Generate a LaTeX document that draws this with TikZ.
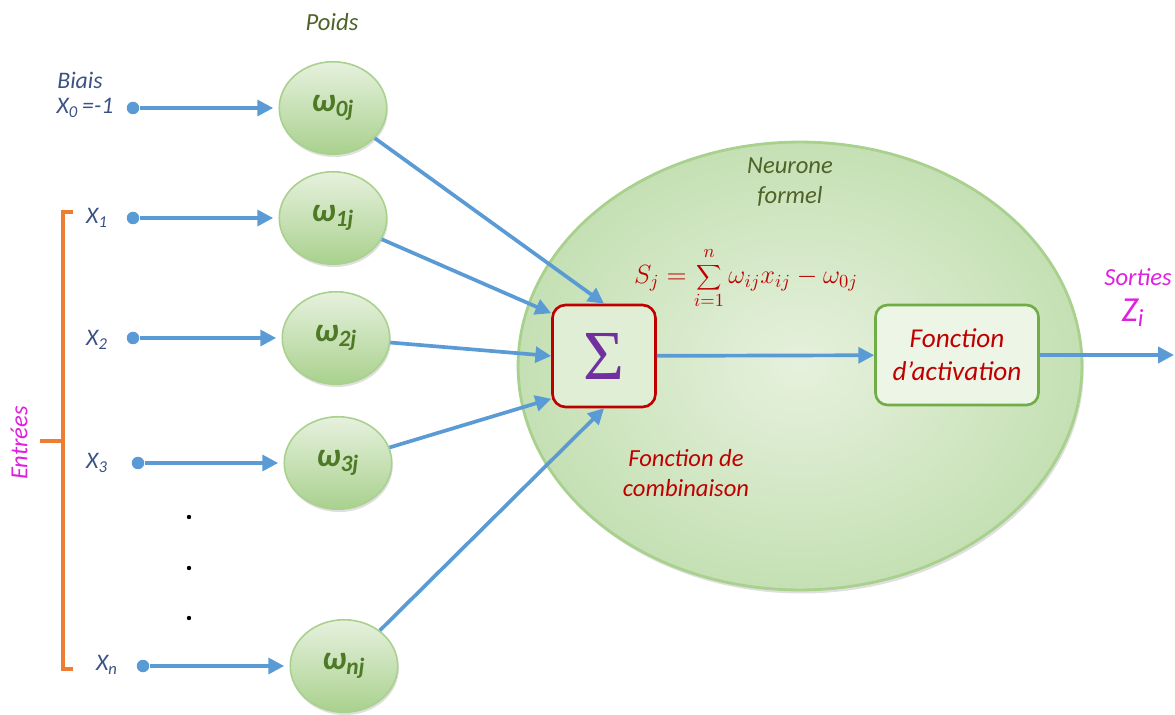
\documentclass[tikz,border=0pt]{standalone}
\usepackage{fix-cm}
\usepackage{fontspec}
\setmainfont{Carlito}
\newfontfamily\sigmafont{Liberation Serif}
\usetikzlibrary{arrows.meta,shapes.geometric,shadows}

\definecolor{arrowblue}{HTML}{5B9BD5}
\definecolor{leafgreen}{HTML}{A9D18E}
\definecolor{midgreen}{HTML}{C5E0B4}
\definecolor{palegreen}{HTML}{E6F1DD}
\definecolor{boxgreen}{HTML}{70AD47}
\definecolor{darkolive}{HTML}{4F6228}
\definecolor{weightgreen}{HTML}{4E7A27}
\definecolor{inkblue}{HTML}{3B5284}
\definecolor{darkred}{HTML}{C00000}
\definecolor{pinkmag}{HTML}{E020E0}
\definecolor{bracketorange}{HTML}{ED7D31}
\definecolor{sigmapurple}{HTML}{7030A0}

\tikzset{
  weight/.style={ellipse, minimum width=2.15cm, minimum height=1.85cm, inner sep=0pt,
    draw=leafgreen, line width=0.9pt, top color=palegreen, bottom color=leafgreen,
    text=weightgreen, font=\fontsize{19}{22}\selectfont\bfseries\itshape,
    drop shadow={opacity=0.25, shadow xshift=0.6pt, shadow yshift=-1.6pt}},
  indot/.style={circle, fill=arrowblue, inner sep=0pt, minimum size=0.25cm},
  inlabel/.style={text=inkblue, font=\fontsize{13.5}{16}\selectfont\itshape},
  link/.style={arrowblue, line width=2.1pt, -{Triangle[length=9pt,width=9pt]}},
  redtext/.style={text=darkred, align=center, font=\fontsize{14}{17}\selectfont\itshape},
  greentext/.style={text=darkolive, align=center, font=\fontsize{14}{17}\selectfont\itshape},
  pinktext/.style={text=pinkmag, font=\fontsize{14}{17}\selectfont\itshape},
}

\begin{document}
\begin{tikzpicture}[x=0.02cm, y=-0.02cm]
  \useasboundingbox (0,0) rectangle (1175,715);

  % neuron body
  \node(neuron) [ellipse, minimum width=11.28cm, minimum height=8.96cm, inner sep=0pt,
    draw=leafgreen, line width=1.6pt, inner color=palegreen, outer color=midgreen,
    drop shadow={opacity=0.25, shadow xshift=1pt, shadow yshift=-2pt}] at (800,366) {};
  \node(title) [greentext] at (790,182) {Neurone\\formel};
  \node(formula) [text=darkred, font=\fontsize{15}{18}\selectfont, inner sep=0pt] at (746,276)
    {$\displaystyle S_j=\sum_{i=1}^{n\vphantom{j}}\omega_{ij}x_{ij}-\omega_{0j}$};

  % combination and activation
  \node(sigma) [draw=darkred, line width=1.5pt, rounded corners=0.26cm, fill=palegreen!80!midgreen,
    minimum width=2.06cm, minimum height=2.04cm, text=sigmapurple,
    font=\fontsize{40}{44}\selectfont\sigmafont] at (604,356) {Σ};
  \node(comb) [redtext] at (686,473) {Fonction de\\combinaison};
  \node(act) [draw=boxgreen, line width=1.5pt, rounded corners=0.24cm, fill=palegreen!70!white,
    minimum width=3.26cm, minimum height=2cm, redtext, font=\fontsize{15.5}{19}\selectfont\itshape]
    at (957,355) {Fonction\\d’activation};

  % weights
  \node(poids) [greentext] at (332,22) {Poids};
  \node(w0) [weight] at (333,108) {ω\textsubscript{0j}};
  \node(w1) [weight] at (333,218) {ω\textsubscript{1j}};
  \node(w2) [weight] at (336,338) {ω\textsubscript{2j}};
  \node(w3) [weight] at (338,463) {ω\textsubscript{3j}};
  \node(wn) [weight] at (344,666) {ω\textsubscript{nj}};

  % inputs
  \node(biais) [inlabel] at (80,80) {Biais};
  \node(x0) [inlabel] at (85,108) {X\textsubscript{0}\,=-1};
  \node(x1) [inlabel] at (97,218) {X\textsubscript{1}};
  \node(x2) [inlabel] at (97,340) {X\textsubscript{2}};
  \node(x3) [inlabel] at (97,463) {X\textsubscript{3}};
  \node(xn) [inlabel] at (107,665) {X\textsubscript{n}};
  \node(d0) [indot] at (133,108) {};
  \node(d1) [indot] at (133,218) {};
  \node(d2) [indot] at (133,338) {};
  \node(d3) [indot] at (138,463) {};
  \node(dn) [indot] at (143,666) {};
  \foreach \y in {517,568,618}
    \fill (189,\y) circle (2.2);

  % bracket of the inputs
  \draw[bracketorange, line width=2.2pt] (73,212) -- (63,212) -- (63,669) -- (73,669)
    (63,441) -- (40,441);
  \node(entrees) [pinktext, rotate=90] at (19,443) {Entrées};

  % connections
  \draw[link, shorten >=3pt] (d0) -- (w0);
  \draw[link, shorten >=3pt] (d1) -- (w1);
  \draw[link, shorten >=3pt] (d2) -- (w2);
  \draw[link, shorten >=3pt] (d3) -- (w3);
  \draw[link, shorten >=3pt] (dn) -- (wn);
  \draw[link] (w0) -- (sigma.north);
  \draw[link] (w1) -- (sigma.141);
  \draw[link] (w2) -- (sigma.west);
  \draw[link] (w3) -- (sigma.219);
  \draw[link] (wn) -- (sigma.south);
  \draw[link] (sigma) -- (act);

  % output
  \coordinate(out) at (1174,355);
  \draw[link] (act) -- (out);
  \node(sorties) [pinktext] at (1138,277) {Sorties};
  \node(zi) [text=pinkmag, font=\fontsize{20}{22}\selectfont\itshape] at (1133,313) {Z\textsubscript{i}};
\end{tikzpicture}
\end{document}
